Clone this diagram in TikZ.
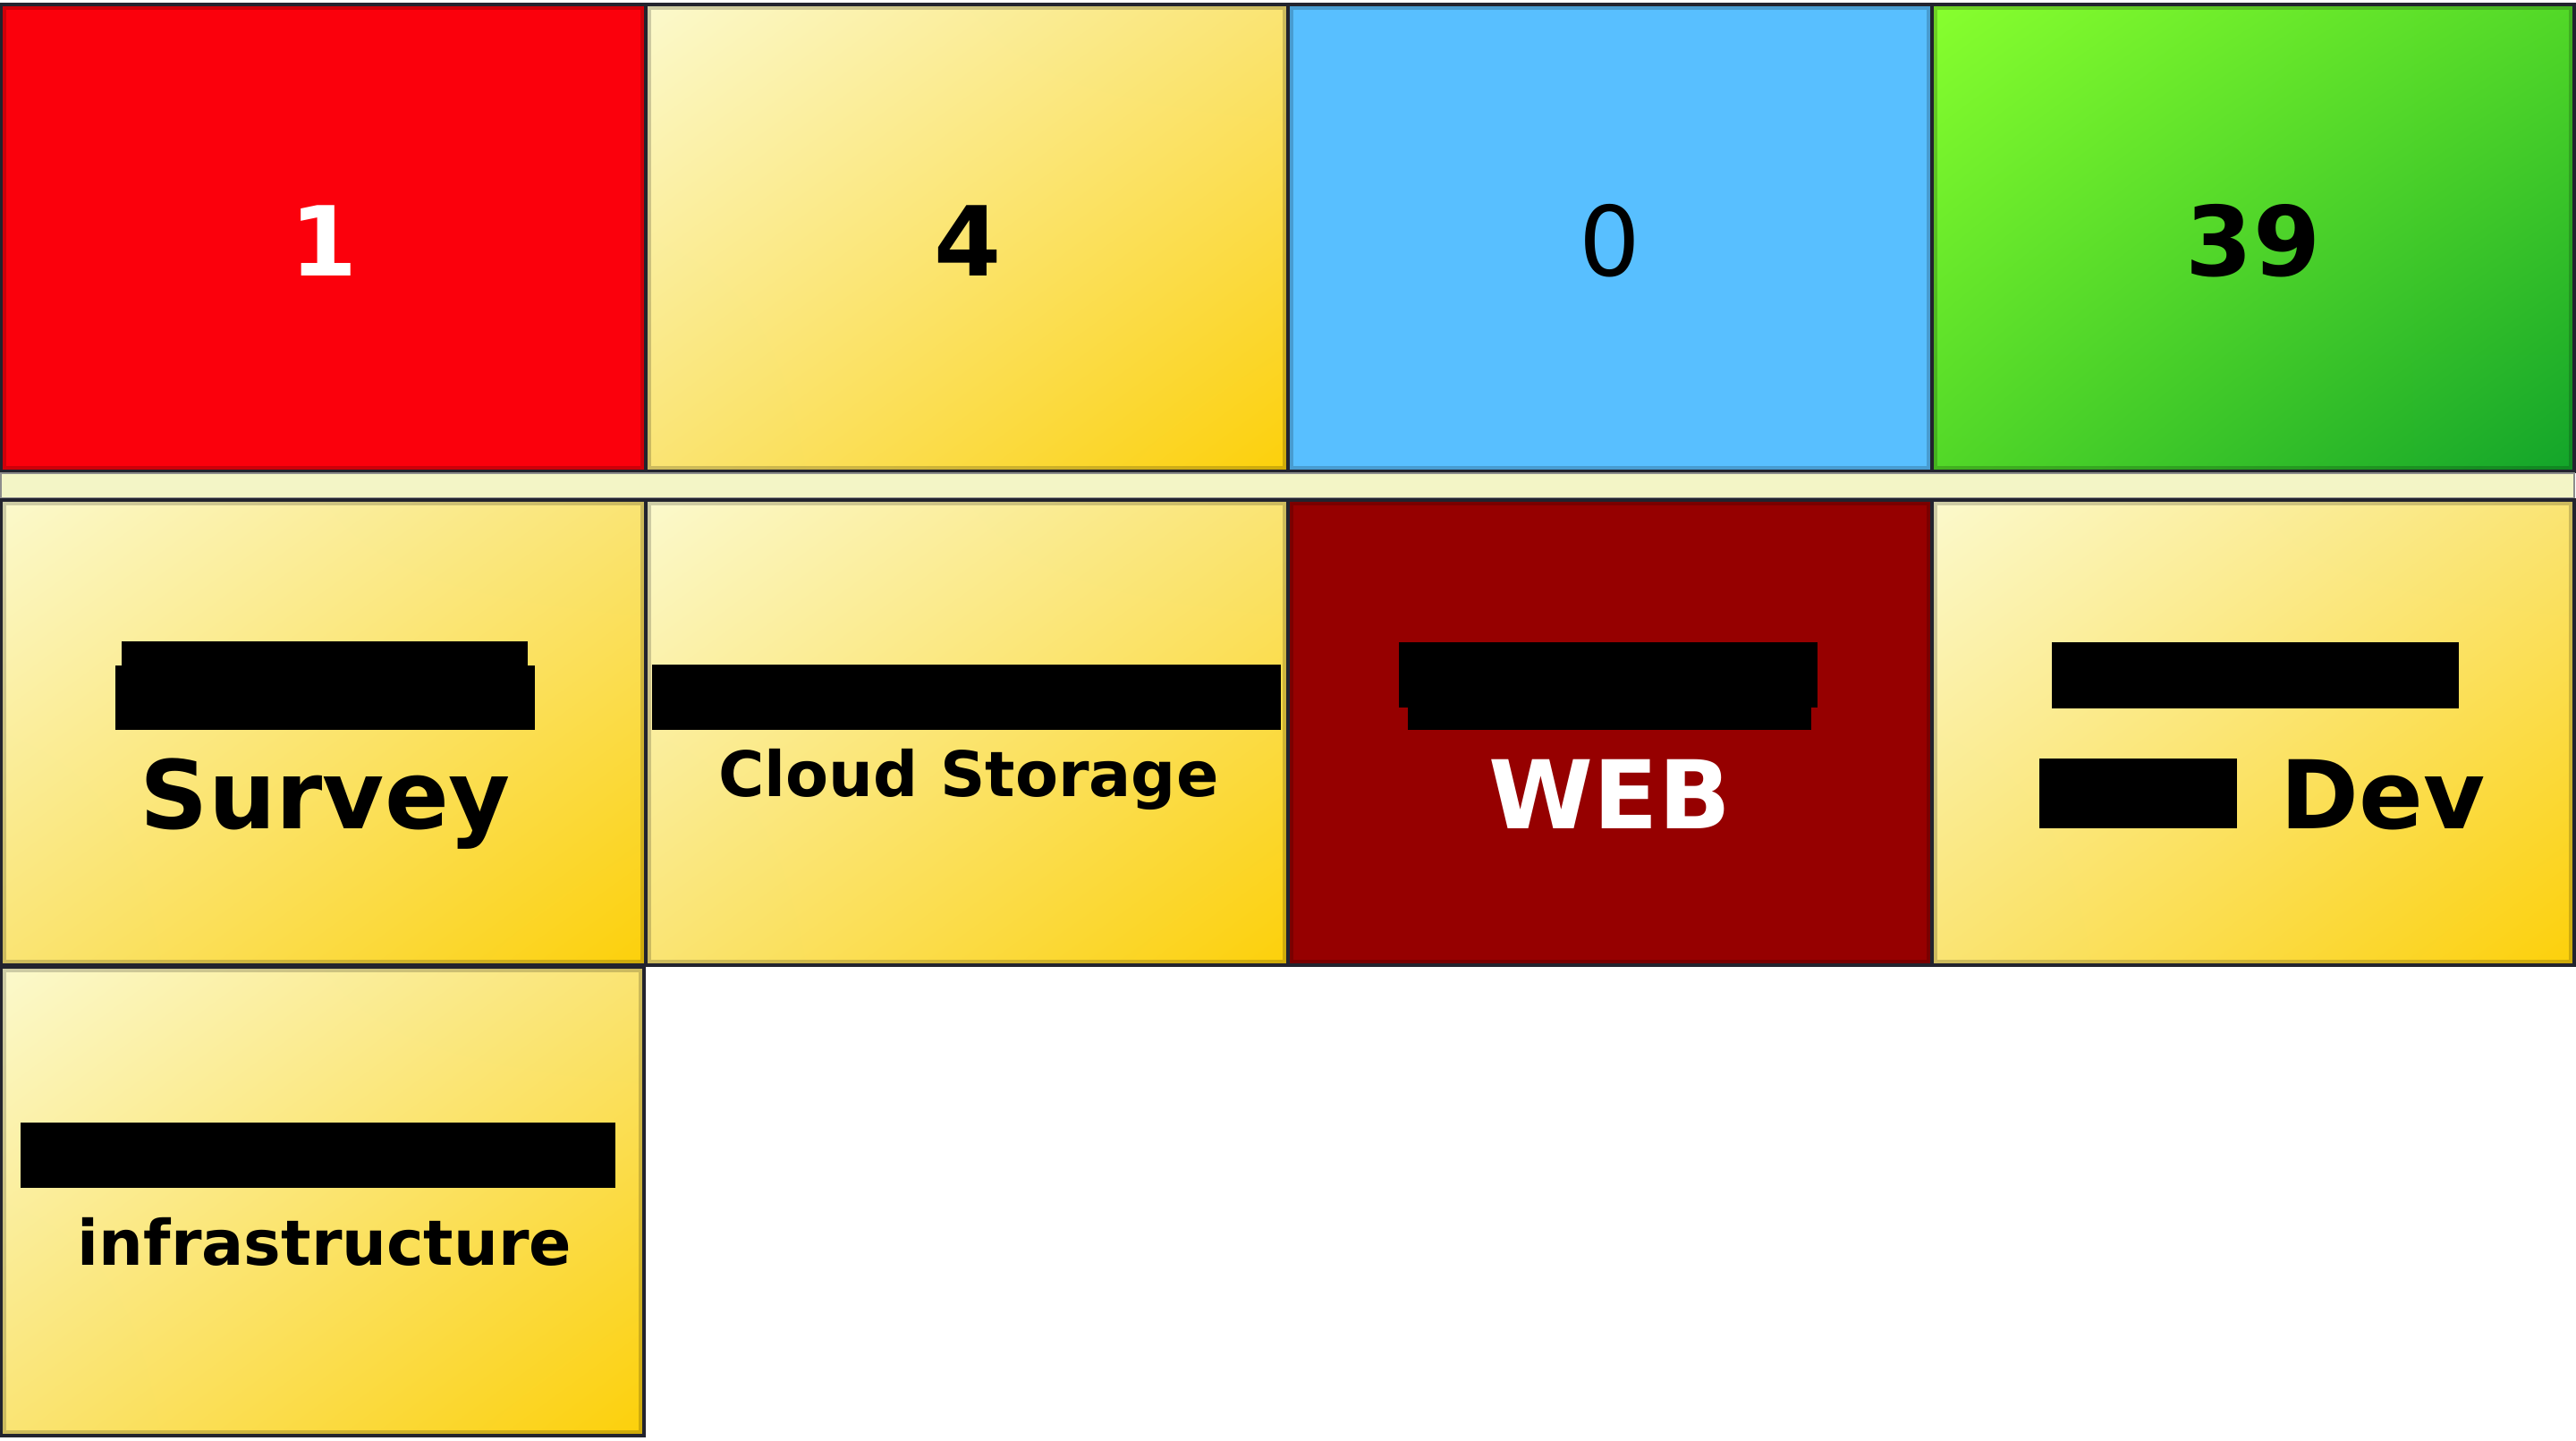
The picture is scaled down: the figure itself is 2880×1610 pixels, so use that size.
\documentclass[tikz,border=0pt]{standalone}
\usepackage{fontspec}
\setmainfont{DejaVu Sans}
\usetikzlibrary{shadings}
\definecolor{ylA}{HTML}{FBF9CC}
\definecolor{ylM}{HTML}{FAE473}
\definecolor{ylB}{HTML}{FCD00A}
\definecolor{grA}{HTML}{88FF2E}
\definecolor{grM}{HTML}{52D828}
\definecolor{grB}{HTML}{12A42A}
\definecolor{redc}{HTML}{FB000C}
\definecolor{bluec}{HTML}{58BFFF}
\definecolor{darkred}{HTML}{960000}
\definecolor{bandc}{HTML}{F3F5C6}
\definecolor{edgec}{HTML}{22232E}
\newcommand{\bignumfont}{\fontsize{27}{32}\selectfont\bfseries}
\newcommand{\bigtitlefont}{\fontsize{26.5}{32}\selectfont\bfseries}
\newcommand{\smalltitlefont}{\fontsize{17.5}{21}\selectfont\bfseries}
\begin{document}
\begin{tikzpicture}[x=0.25pt,y=-0.25pt,
  cell/.style={draw=edgec, line width=0.9pt},
  yelcell/.style={cell, upper left=ylA, upper right=ylM, lower left=ylM, lower right=ylB},
  grecell/.style={cell, upper left=grA, upper right=grM, lower left=grM, lower right=grB},
  innershade/.style={draw=black, line width=1.2pt, opacity=0.18},
  redact/.style={fill=black},
  numlabel/.style={anchor=base, inner sep=0pt, font=\bignumfont},
  titlelabel/.style={anchor=base, inner sep=0pt, font=\bigtitlefont},
  smalllabel/.style={anchor=base, inner sep=0pt, font=\smalltitlefont}]
\useasboundingbox (0,0) rectangle (2880,1610);
\fill[white] (0,0) rectangle (2880,1610);
% top row
\path[cell, fill=redc] (1,5) rectangle (722,527);
\path[yelcell] (722,5) rectangle (1440,527);
\path[cell, fill=bluec] (1440,5) rectangle (2160,527);
\path[grecell] (2160,5) rectangle (2878,527);
% band
\path[draw=black!45, line width=0.6pt, fill=bandc] (1,529) rectangle (2878,557);
% second row
\path[yelcell] (1,559) rectangle (722,1079);
\path[yelcell] (722,559) rectangle (1440,1079);
\path[cell, fill=darkred] (1440,559) rectangle (2160,1079);
\path[yelcell] (2160,559) rectangle (2878,1079);
% third row
\path[yelcell] (1,1081) rectangle (720,1605);
% inner edge shading
\foreach \xa/\ya/\xb/\yb in {1/5/722/527, 722/5/1440/527, 1440/5/2160/527, 2160/5/2878/527,
  1/559/722/1079, 722/559/1440/1079, 1440/559/2160/1079, 2160/559/2878/1079, 1/1081/720/1605}
  \draw[innershade] (\xa+4,\ya+4) rectangle (\xb-4,\yb-4);
% numbers
\node[numlabel, text=white] (n1) at (362,308) {1};
\node[numlabel, text=black] (n4) at (1082,308) {4};
\node[numlabel, text=black, font=\fontsize{27}{32}\selectfont] (n0) at (1800,308) {0};
\node[numlabel, text=black] (n39) at (2519,308) {39};
% redacted blocks
\fill[redact] (136,717) rectangle (590,744);
\fill[redact] (129,744) rectangle (598,816);
\fill[redact] (729,743) rectangle (1432,816);
\fill[redact] (1564,718) rectangle (2032,791);
\fill[redact] (1574,718) rectangle (2025,816);
\fill[redact] (2294,718) rectangle (2749,792);
\fill[redact] (2280,848) rectangle (2501,926);
\fill[redact] (23,1255) rectangle (688,1328);
% titles
\node[titlelabel] (survey) at (364,926) {Survey};
\node[smalllabel] (cloud) at (1083,890) {Cloud Storage};
\node[titlelabel, text=white] (web) at (1800,926) {WEB};
\node[titlelabel, anchor=base west] (dev) at (2549,926) {Dev};
\node[smalllabel] (infra) at (363,1414) {infrastructure};
\end{tikzpicture}
\end{document}
